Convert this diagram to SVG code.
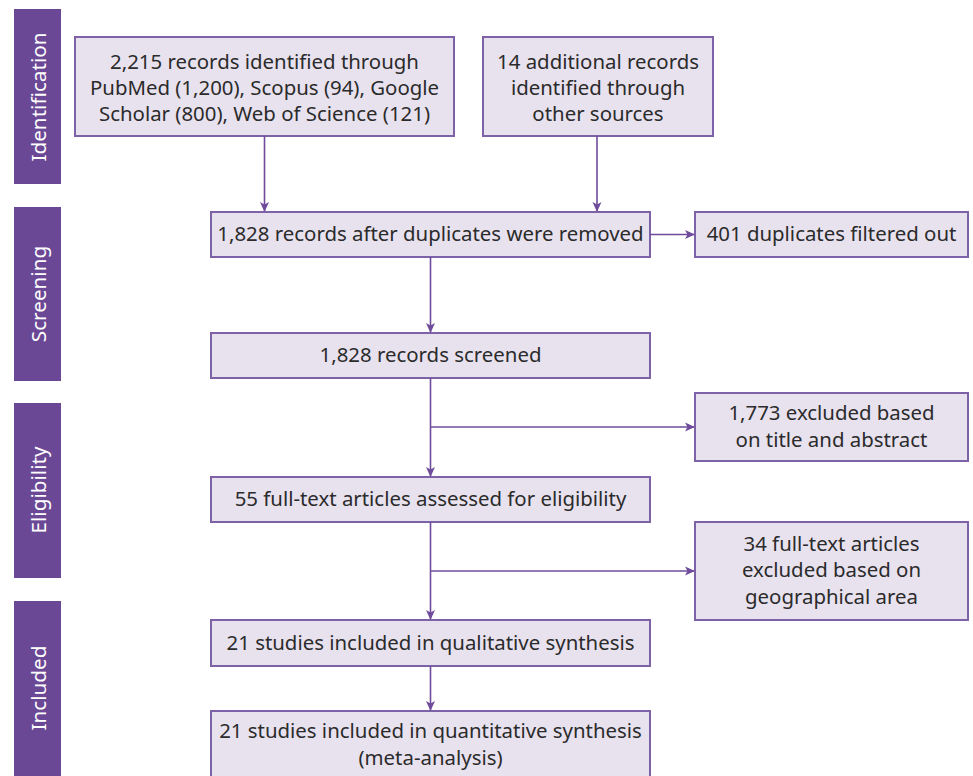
<svg xmlns="http://www.w3.org/2000/svg" width="973" height="776" viewBox="0 0 973 776">
<defs>
<marker id="ah" markerWidth="10" markerHeight="10" refX="9" refY="5" orient="auto" markerUnits="userSpaceOnUse">
<path d="M0,0.5 L10,5 L0,9.5 L2.5,5 Z" fill="#6f4c9b"/>
</marker>
<style>
.bar{fill:#6b4895;}
.bl{fill:#ffffff;font-family:"Noto Sans","Open Sans",sans-serif;font-size:20.7px;text-anchor:middle;}
.box{fill:#e8e2ef;stroke:#7d62a8;stroke-width:2;}
.t{fill:#2b2b2b;font-family:"Noto Sans","Open Sans",sans-serif;font-size:20.4px;text-anchor:middle;}
.c{stroke:#6f4c9b;stroke-width:1.6;fill:none;}
</style>
</defs>
<rect width="973" height="776" fill="#ffffff"/>
<g id="stage-identification"><rect class="bar" x="14" y="9" width="47" height="175"/><text class="bl" transform="translate(45.5,97) rotate(-90)">Identification</text></g>
<g id="stage-screening"><rect class="bar" x="14" y="207" width="47" height="174"/><text class="bl" transform="translate(45.5,294) rotate(-90)">Screening</text></g>
<g id="stage-eligibility"><rect class="bar" x="14" y="403" width="47" height="175"/><text class="bl" transform="translate(45.5,490) rotate(-90)">Eligibility</text></g>
<g id="stage-included"><rect class="bar" x="14" y="601" width="47" height="180"/><text class="bl" transform="translate(45.5,688) rotate(-90)">Included</text></g>

<g id="n-db"><rect class="box" x="75" y="37" width="379" height="99"/>
<text class="t" x="264.5" y="69">2,215 records identified through</text>
<text class="t" x="264.5" y="95">PubMed (1,200), Scopus (94), Google</text>
<text class="t" x="264.5" y="121">Scholar (800), Web of Science (121)</text></g>
<g id="n-other"><rect class="box" x="483" y="37" width="230" height="99"/>
<text class="t" x="598" y="69">14 additional records</text>
<text class="t" x="598" y="95">identified through</text>
<text class="t" x="598" y="121">other sources</text></g>
<g id="n-dedup"><rect class="box" x="211" y="212" width="439" height="45"/>
<text class="t" x="430.5" y="241">1,828 records after duplicates were removed</text></g>
<g id="n-dups"><rect class="box" x="695" y="212" width="273" height="45"/>
<text class="t" x="831.5" y="241">401 duplicates filtered out</text></g>
<g id="n-screened"><rect class="box" x="211" y="333" width="439" height="45"/>
<text class="t" x="430.5" y="362">1,828 records screened</text></g>
<g id="n-excl1"><rect class="box" x="695" y="393" width="273" height="68"/>
<text class="t" x="831.5" y="420">1,773 excluded based</text>
<text class="t" x="831.5" y="447">on title and abstract</text></g>
<g id="n-full"><rect class="box" x="211" y="477" width="439" height="45"/>
<text class="t" x="430.5" y="506">55 full-text articles assessed for eligibility</text></g>
<g id="n-excl2"><rect class="box" x="695" y="522" width="273" height="98"/>
<text class="t" x="831.5" y="551">34 full-text articles</text>
<text class="t" x="831.5" y="577">excluded based on</text>
<text class="t" x="831.5" y="604">geographical area</text></g>
<g id="n-qual"><rect class="box" x="211" y="620" width="439" height="46"/>
<text class="t" x="430.5" y="650">21 studies included in qualitative synthesis</text></g>
<g id="n-quant"><rect class="box" x="211" y="711" width="439" height="75"/>
<text class="t" x="430.5" y="738">21 studies included in quantitative synthesis</text>
<text class="t" x="430.5" y="765">(meta-analysis)</text></g>

<g id="connectors">
<path class="c" d="M264.5,136 V211" marker-end="url(#ah)"/>
<path class="c" d="M597,136 V211" marker-end="url(#ah)"/>
<path class="c" d="M650,234.5 H694" marker-end="url(#ah)"/>
<path class="c" d="M430.5,257 V332" marker-end="url(#ah)"/>
<path class="c" d="M430.5,378 V476" marker-end="url(#ah)"/>
<path class="c" d="M430.5,427 H694" marker-end="url(#ah)"/>
<path class="c" d="M430.5,522 V619" marker-end="url(#ah)"/>
<path class="c" d="M430.5,571 H694" marker-end="url(#ah)"/>
<path class="c" d="M430.5,666 V710" marker-end="url(#ah)"/>
</g>
</svg>
